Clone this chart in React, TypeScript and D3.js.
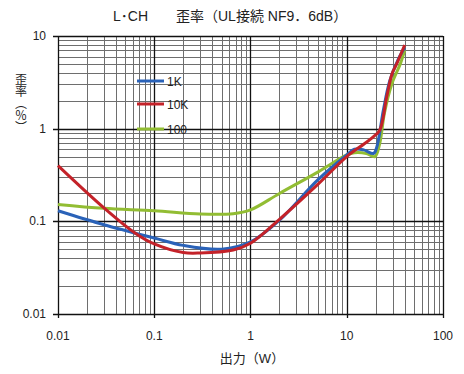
import React from 'react';
import * as d3 from 'd3';

// output power (W) and distortion (%) per series
const w1k = [0.01, 0.03, 0.1, 0.2, 0.5, 1, 2, 5, 10, 12, 15, 19, 20.5, 24, 28, 34, 40];
const thd1k = [0.13, 0.092, 0.066, 0.055, 0.05, 0.06, 0.103, 0.28, 0.52, 0.6, 0.59, 0.54, 0.63, 1.58, 3.3, 5.5, 7.5];

const w10k = [0.01, 0.03, 0.063, 0.1, 0.2, 0.3, 0.66, 1, 2, 5, 10, 15, 19, 22, 26, 29.5, 33, 40];
const thd10k = [0.4, 0.14, 0.075, 0.057, 0.046, 0.0455, 0.049, 0.058, 0.105, 0.25, 0.5, 0.68, 0.82, 0.96, 2.2, 3.9, 5.0, 8.0];

const w100 = [0.01, 0.03, 0.1, 0.3, 0.66, 1, 2, 5, 10, 12, 16, 19.6, 22, 24.6, 29.5, 36, 40];
const thd100 = [0.152, 0.138, 0.13, 0.12, 0.121, 0.133, 0.2, 0.34, 0.52, 0.55, 0.54, 0.5, 0.69, 1.46, 3.07, 5.0, 7.0];

const xTicks = [0.01, 0.1, 1, 10, 100];
const yTicks = [0.01, 0.1, 1, 10];
const xTickLabels = ['0.01', '0.1', '1', '10', '100'];
const yTickLabels = ['0.01', '0.1', '1', '10'];

const series = [
  { name: '100', w: w100, v: thd100, color: '#92bd33' },
  { name: '1K', w: w1k, v: thd1k, color: '#2a62b8' },
  { name: '10K', w: w10k, v: thd10k, color: '#c42229' },
];
const legendOrder = ['1K', '10K', '100'];

const font = '"Liberation Sans", "Noto Sans CJK JP", sans-serif';

export default function App() {
  const left = 58, right = 443, top = 36, bottom = 314;
  const x = d3.scaleLog().domain([0.01, 100]).range([left, right]);
  const y = d3.scaleLog().domain([0.01, 10]).range([bottom, top]);

  const minorX: number[] = [];
  for (let d = -2; d <= 1; d++) for (let k = 2; k <= 9; k++) minorX.push(k * Math.pow(10, d));
  const minorY: number[] = [];
  for (let d = -2; d <= 0; d++) for (let k = 2; k <= 9; k++) minorY.push(k * Math.pow(10, d));

  const px = (v: number) => Math.round(v) + 0.5;

  const line = d3
    .line<[number, number]>()
    .x(d => x(d[0]))
    .y(d => y(d[1]))
    .curve(d3.curveCatmullRom.alpha(0.5));

  return (
    <svg width={464} height={374} style={{ position: 'absolute', left: 0, top: 0, background: '#fff' }}>
      <text x={113} y={21} fontFamily={font} fontSize={14} fill="#222">
        L･CH　　歪率（UL接続 NF9．6dB）
      </text>

      {minorX.map(v => (
        <line key={'mx' + v} x1={px(x(v))} x2={px(x(v))} y1={top} y2={bottom} stroke="#6e6e6e" strokeWidth={1} />
      ))}
      {minorY.map(v => (
        <line key={'my' + v} x1={left} x2={right} y1={px(y(v))} y2={px(y(v))} stroke="#6e6e6e" strokeWidth={1} />
      ))}
      {xTicks.map(v => (
        <line key={'Mx' + v} x1={px(x(v))} x2={px(x(v))} y1={top} y2={bottom + 4} stroke="#111" strokeWidth={1.3} />
      ))}
      {yTicks.map(v => (
        <line key={'My' + v} x1={left - 5} x2={right} y1={px(y(v))} y2={px(y(v))} stroke="#111" strokeWidth={1.3} />
      ))}

      {xTicks.map((v, i) => (
        <text key={'xl' + v} x={x(v)} y={340} textAnchor="middle" fontFamily={font} fontSize={12} fill="#222">
          {xTickLabels[i]}
        </text>
      ))}
      {yTicks.map((v, i) => (
        <text key={'yl' + v} x={46} y={y(v) + 4} textAnchor="end" fontFamily={font} fontSize={12} fill="#222">
          {yTickLabels[i]}
        </text>
      ))}

      <text x={252} y={363} textAnchor="middle" fontFamily={font} fontSize={13} fill="#222">
        出力（W）
      </text>
      <text
        x={21}
        y={73}
        fontFamily='"Noto Sans CJK JP", sans-serif'
        fontSize={12}
        fill="#222"
        style={{ writingMode: 'vertical-rl' }}
      >
        歪率（％）
      </text>

      {series.map(s => (
        <path
          key={s.name}
          d={line(s.w.map((w, i) => [w, s.v[i]] as [number, number])) || ''}
          fill="none"
          stroke={s.color}
          strokeWidth={3}
          strokeLinejoin="round"
        />
      ))}

      {legendOrder.map((name, i) => {
        const s = series.find(d => d.name === name)!;
        const ly = [81, 104, 129][i];
        return (
          <g key={'lg' + name}>
            <line x1={137} x2={164} y1={ly} y2={ly} stroke={s.color} strokeWidth={3} />
            <text x={167} y={ly + 5} fontFamily={font} fontSize={12} fill="#222">
              {name}
            </text>
          </g>
        );
      })}
    </svg>
  );
}
